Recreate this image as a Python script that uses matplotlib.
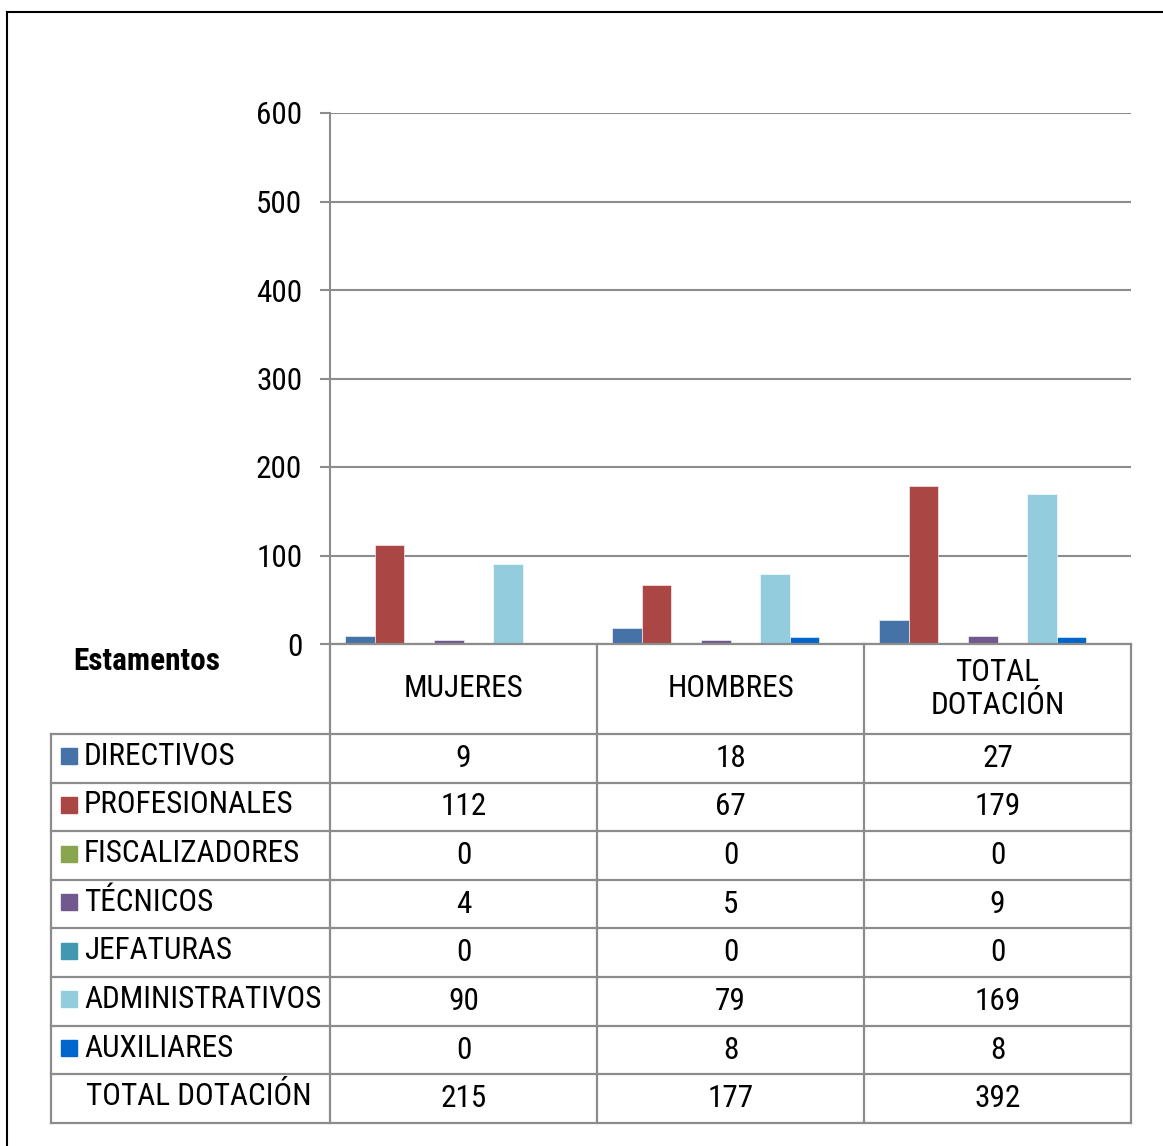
import matplotlib
matplotlib.use("Agg")
import matplotlib.pyplot as plt
from matplotlib import font_manager
from matplotlib.lines import Line2D
from matplotlib.patches import Rectangle
import numpy as np

# ---------------- data ----------------
categories = ["MUJERES", "HOMBRES", "TOTAL\nDOTACIÓN"]
series_names = ["DIRECTIVOS", "PROFESIONALES", "FISCALIZADORES", "TÉCNICOS",
                "JEFATURAS", "ADMINISTRATIVOS", "AUXILIARES", "TOTAL DOTACIÓN"]
directivos = [9, 18, 27]
profesionales = [112, 67, 179]
fiscalizadores = [0, 0, 0]
tecnicos = [4, 5, 9]
jefaturas = [0, 0, 0]
administrativos = [90, 79, 169]
auxiliares = [0, 8, 8]
total_dotacion = [215, 177, 392]
series_values = [directivos, profesionales, fiscalizadores, tecnicos,
                 jefaturas, administrativos, auxiliares, total_dotacion]
series_colors = ["#4572A7", "#AA4643", "#89A54E", "#71588F",
                 "#4198AF", "#93CDDD", "#0066CC", None]
yticks = [0, 100, 200, 300, 400, 500, 600]
table_title = "Estamentos"

# ---------------- fonts ----------------
avail = {f.name for f in font_manager.fontManager.ttflist}
fam = "Liberation Sans"
for cand in ["Liberation Sans Narrow", "Arial Narrow", "Roboto Condensed",
             "PT Sans Narrow", "Archivo Narrow", "Barlow Semi Condensed"]:
    if cand in avail:
        fam = cand
        break
plt.rcParams["font.family"] = [fam, "DejaVu Sans"]
FS = 22.5

W, H = 1163, 1146
fig = plt.figure(figsize=(W / 100, H / 100), dpi=100)

def fr(x0, y0, x1, y1):
    return [x0 / W, 1 - y1 / H, (x1 - x0) / W, (y1 - y0) / H]

GRAY = "#8c8c8c"

# ---------------- chart ----------------
ax = fig.add_axes(fr(330, 113, 1131, 644))
n = len(series_names)
bw = 1 / 9.05
x = np.arange(len(categories))
for i, (vals, col) in enumerate(zip(series_values, series_colors)):
    if col is None:
        continue
    ax.bar(x + (i - (n - 1) / 2) * bw, vals, width=bw, color=col,
           edgecolor="white", linewidth=0.4, zorder=3)
ax.set_xlim(-0.5, len(categories) - 0.5)
ax.set_ylim(0, 600)
ax.set_yticks(yticks)
ax.set_yticklabels([str(v) for v in yticks], fontsize=FS)
ax.yaxis.grid(True, color=GRAY, linewidth=1.5, zorder=0)
ax.set_xticks([])
ax.tick_params(axis="y", length=7, width=1.5, color=GRAY, pad=13)
for s in ["top", "right", "bottom"]:
    ax.spines[s].set_visible(False)
ax.spines["left"].set_color(GRAY)
ax.spines["left"].set_linewidth(1.5)

# ---------------- data table ----------------
tx0, tx1, ty0, ty1 = 51, 1131, 644, 1123
tab = fig.add_axes(fr(tx0, ty0, tx1, ty1))
tab.set_xlim(tx0, tx1)
tab.set_ylim(ty1, ty0)
tab.axis("off")
col_edges = [51, 330, 597, 864, 1131]
header_bottom = 734
row_h = (ty1 - header_bottom) / len(series_names)
row_edges = [header_bottom + k * row_h for k in range(len(series_names) + 1)]
lw = 1.6
tab.plot([330, 1131], [644, 644], color=GRAY, lw=lw, clip_on=False)
for k, yv in enumerate(row_edges):
    tab.plot([51, 1131], [yv, yv], color=GRAY, lw=lw, clip_on=False)
tab.plot([51, 51], [header_bottom, ty1], color=GRAY, lw=lw, clip_on=False)
for xv in col_edges[1:]:
    tab.plot([xv, xv], [644, ty1], color=GRAY, lw=lw, clip_on=False)

tab.text(73, 661, table_title, fontsize=FS, fontweight="bold",
         ha="left", va="center")
for j, c in enumerate(categories):
    tab.text((col_edges[j + 1] + col_edges[j + 2]) / 2, 689, c, fontsize=FS,
             ha="center", va="center", linespacing=1.2)
for i, name in enumerate(series_names):
    yc = (row_edges[i] + row_edges[i + 1]) / 2
    col = series_colors[i]
    if col is not None:
        tab.add_patch(Rectangle((61, yc - 10), 16, 16, color=col))
        tab.text(84, yc - 2, name, fontsize=FS, ha="left", va="center")
    else:
        tab.text(86, yc - 2, name, fontsize=FS, ha="left", va="center")
    for j, v in enumerate(series_values[i]):
        tab.text((col_edges[j + 1] + col_edges[j + 2]) / 2, yc, str(v),
                 fontsize=FS, ha="center", va="center")

# outer frame
fig.add_artist(Line2D([7 / W, 7 / W], [0, 1 - 12 / H], color="black", lw=1.5))
fig.add_artist(Line2D([7 / W, 1], [1 - 12 / H, 1 - 12 / H], color="black", lw=1.5))

fig.savefig("out.png", dpi=100, facecolor="white")
